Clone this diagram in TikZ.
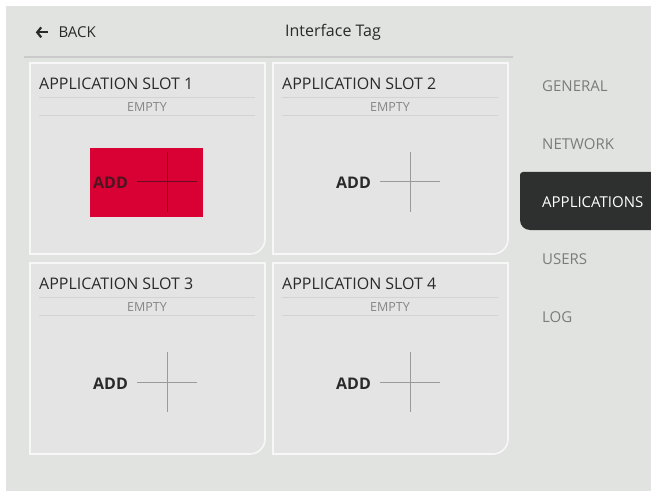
\documentclass[tikz,border=0pt]{standalone}
\usepackage{fontspec}
\setmainfont{Open Sans}
\usetikzlibrary{arrows.meta, positioning}

\definecolor{pagegrey}{HTML}{E1E3E1}
\definecolor{cardgrey}{HTML}{E4E4E4}
\definecolor{cardedge}{HTML}{F7F7F7}
\definecolor{ruleg}{HTML}{D2D3D2}
\definecolor{headrule}{HTML}{C9CAC9}
\definecolor{inkdark}{HTML}{2A2A2A}
\definecolor{inkgrey}{HTML}{7B7B7B}
\definecolor{emptygrey}{HTML}{858585}
\definecolor{tabdark}{HTML}{2E302F}
\definecolor{addred}{HTML}{D90033}
\definecolor{plusgrey}{HTML}{9A9A9A}
\definecolor{plusdark}{HTML}{6E0A26}
\definecolor{adddark}{HTML}{4C1522}

\begin{document}
\begin{tikzpicture}
  [
  x=1pt, y=-1pt,
  % card
  card/.style = {fill=cardgrey,
    draw=cardedge, line width=1.6pt},
  % texts
  slottitle/.style = {anchor=base west, inner sep=0pt,
    text=inkdark, font=\fontsize{16}{19}\selectfont},
  emptytag/.style = {anchor=base, inner sep=0pt,
    text=emptygrey, font=\fontsize{12.5}{14}\selectfont},
  addtag/.style = {anchor=base west, inner sep=0pt,
    font=\fontsize{16}{19}\selectfont\bfseries},
  navitem/.style = {anchor=north west, inner sep=0pt,
    text=inkgrey, font=\fontsize{15}{18}\selectfont},
  % lines
  rule/.style = {draw=ruleg, line width=0.8pt},
  crossline/.style = {draw, line width=1pt},
  backarrow/.style = {draw=inkdark, line width=2.2pt,
    -{Straight Barb[length=4pt, width=10pt]}},
  ]

  \useasboundingbox (0,0) rectangle (651,492);
  \fill [white] (0,0) rectangle (651,492);
  \fill [pagegrey] (6,6) rectangle (651,491);

  % header
  \node [anchor=base west, inner sep=0pt, text=inkdark,
    font=\fontsize{15}{18}\selectfont] (back) at (58.3,37.7) {BACK};
  \coordinate (arrtail) at ([xshift=-10.5pt]back.west);
  \coordinate (arrtip) at ([xshift=-22.5pt]back.west);
  \path [backarrow] (arrtail) -- (arrtip);
  \node [anchor=base, inner sep=0pt, text=inkdark,
    font=\fontsize{16}{19}\selectfont] (ifacetag) at (333,37) {Interface Tag};
  \path [draw=headrule, line width=1.5pt] (24,57) -- (513,57);

  % slots
  \foreach \n/\x/\y in {1/30/63, 2/273/63, 3/30/263, 4/273/263} {
    \draw [card] (\x,\y) -- (\x+235,\y) -- (\x+235,\y+176)
      arc [start angle=0, end angle=90, radius=15] -- (\x,\y+191) -- cycle;
    \node [slottitle] (slot\n) at (\x+9,\y+26.5) {APPLICATION SLOT \n};
    \path [rule] (\x+9,\y+34) -- (\x+225,\y+34);
    \node [emptytag] (empty\n) at (\x+117,\y+48.5) {EMPTY};
    \path [rule] (\x+9,\y+52) -- (\x+225,\y+52);
    \ifnum\n=1
      \fill [addred] (\x+60,\y+85) rectangle (\x+173,\y+154);
      \def\addink{adddark}\def\plusink{plusdark}
    \else
      \def\addink{inkdark}\def\plusink{plusgrey}
    \fi
    \node [addtag, text=\addink] (add\n) at (\x+63,\y+126) {ADD};
    \coordinate (plus\n) at (\x+137,\y+119);
    \path [crossline, draw=\plusink] ([xshift=-30pt]plus\n) -- ([xshift=30pt]plus\n)
      ([yshift=30pt]plus\n) -- ([yshift=-30pt]plus\n);
  }

  % side menu
  \fill [tabdark] (651,172) -- (523,172)
    arc [start angle=270, end angle=180, radius=3] -- (520,220)
    arc [start angle=180, end angle=90, radius=10] -- (651,230) -- cycle;
  \node [navitem] (general) at (542,80.7) {GENERAL};
  \node [navitem, below=46.3pt of general.south west, anchor=north west] (network) {NETWORK};
  \node [navitem, below=46.3pt of network.south west, anchor=north west, text=white] (apps) {APPLICATIONS};
  \node [navitem, below=46.3pt of apps.south west, anchor=north west] (users) {USERS};
  \node [navitem, below=46.3pt of users.south west, anchor=north west] (log) {LOG};

\end{tikzpicture}
\end{document}
